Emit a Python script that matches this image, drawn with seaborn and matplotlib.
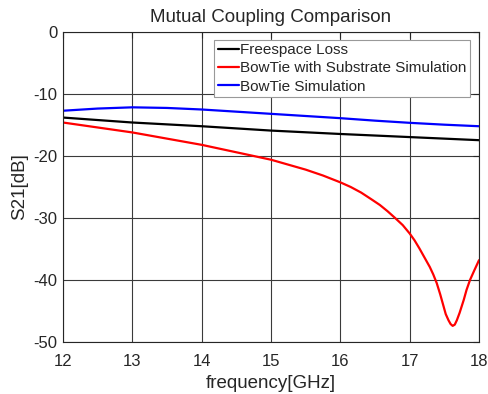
import pandas as pd
import matplotlib
matplotlib.use("Agg")
import matplotlib.pyplot as plt
import seaborn as sns

# values (dB vs GHz)
freq_free = [12, 13, 14, 15, 16, 17, 18]
loss_free = [-13.8, -14.6, -15.2, -15.9, -16.45, -16.95, -17.45]

freq_bowtie = [12, 12.5, 13, 13.5, 14, 14.5, 15, 15.5, 16, 16.5, 17, 17.5, 18]
loss_bowtie = [-12.7, -12.35, -12.15, -12.25, -12.5, -12.85, -13.2, -13.55, -13.9, -14.3, -14.65, -14.95, -15.2]

freq_sub = [12, 12.5, 13, 13.5, 14, 14.5, 15, 15.5, 15.75, 16, 16.15, 16.3, 16.45, 16.57, 16.68, 16.79,
            16.9, 17.0, 17.07, 17.14, 17.21, 17.29, 17.34, 17.39, 17.44, 17.49, 17.52, 17.56,
            17.59, 17.62, 17.65, 17.68, 17.72, 17.78, 17.82, 17.87, 17.93, 18]
loss_sub = [-14.6, -15.4, -16.2, -17.2, -18.2, -19.4, -20.6, -22.2, -23.15, -24.25, -25.0, -25.9, -27.0, -27.9, -28.9, -30.0,
            -31.15, -32.5, -33.6, -34.9, -36.3, -37.9, -39.1, -40.5, -42.3, -44.3, -45.5, -46.5,
            -47.1, -47.4, -47.2, -46.5, -45.3, -43.2, -41.6, -40.0, -38.5, -36.8]

series_names = ["Freespace Loss", "BowTie with Substrate Simulation", "BowTie Simulation"]
series_colors = ["black", "red", "blue"]

frames = []
for name, f, v in zip(series_names, [freq_free, freq_sub, freq_bowtie], [loss_free, loss_sub, loss_bowtie]):
    frames.append(pd.DataFrame({"freq": f, "s21": v, "series": name}))
df = pd.concat(frames, ignore_index=True)

sns.set_style("white")
plt.rcParams["font.family"] = ["Liberation Sans", "DejaVu Sans"]
plt.rcParams["axes.unicode_minus"] = False

fig, ax = plt.subplots(figsize=(4.88, 3.94), dpi=100)
fig.subplots_adjust(left=0.129, right=0.9816, top=0.9188, bottom=0.132)

sns.lineplot(data=df, x="freq", y="s21", hue="series", hue_order=series_names,
             palette=series_colors, linewidth=1.6, sort=True, estimator=None, ax=ax)

ax.set_xlim(12, 18)
ax.set_ylim(-50, 0)
ax.set_xticks(range(12, 19))
ax.set_yticks(range(-50, 1, 10))
ax.grid(True, color="#3a3a3a", linewidth=0.8)
ax.tick_params(direction="in", top=True, right=True, labelsize=12, length=4, width=0.8,
               color="#262626")
ax.tick_params(axis="x", pad=9)
ax.tick_params(axis="y", pad=4)
for sp in ax.spines.values():
    sp.set_color("#262626")
    sp.set_linewidth(0.8)

ax.set_title("Mutual Coupling Comparison", fontsize=13.5, pad=7)
ax.set_xlabel("frequency[GHz]", fontsize=13.5, labelpad=4)
ax.set_ylabel("S21[dB]", fontsize=13.5, labelpad=4)

leg = ax.legend(loc="upper right", fontsize=11, handlelength=1.4, handletextpad=0.1,
                labelspacing=0.28, borderpad=0.2, borderaxespad=0, fancybox=False, framealpha=1,
                bbox_to_anchor=(0.978, 0.974))
leg.get_frame().set_edgecolor("#999999")
leg.get_frame().set_linewidth(0.8)

fig.savefig("out.png", dpi=100)
